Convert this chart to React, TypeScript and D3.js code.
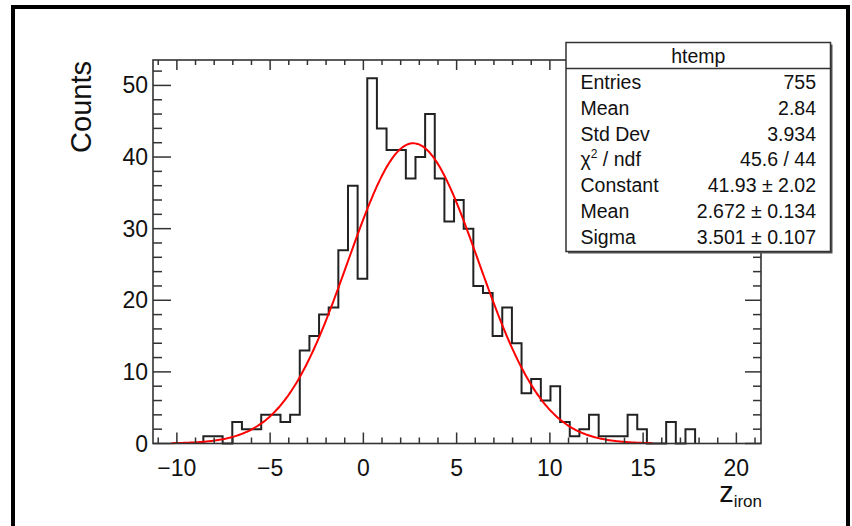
import React from "react"
import * as d3 from "d3"

// histogram contents (51 bins, first edge at -8.58)
const binStart = -8.58
const binWidth = 0.517
const counts = [
  1, 1, 0, 3, 2, 2, 4, 4, 3, 4,
  13, 15, 18, 19, 27, 36, 23, 51, 44, 41,
  41, 37, 40, 46, 37, 31, 34, 30, 22, 21,
  15, 19, 14, 7, 9, 6, 8, 3, 1, 2,
  4, 1, 1, 1, 4, 2, 0, 0, 3, 0, 2,
]

// gaussian fit parameters (from the stats box)
const fitConstant = 41.93
const fitMean = 2.672
const fitSigma = 3.501
const fitRange = [-10.3, 15.5]

const xTicks = [-10, -5, 0, 5, 10, 15, 20]
const yTicks = [0, 10, 20, 30, 40, 50]

const statsTitle = "htemp"
const statsLabels = ["Entries", "Mean", "Std Dev", "χ² / ndf", "Constant", "Mean", "Sigma"]
const statsValues = ["755", "2.84", "3.934", "45.6 / 44", "41.93 ± 2.02", "2.672 ± 0.134", "3.501 ± 0.107"]

const W = 852
const H = 526
const frame = { left: 153, right: 761, top: 60, bottom: 443.5 }
const font = "'Liberation Sans', Arial, Helvetica, sans-serif"

export default function App() {
  const x = d3.scaleLinear().domain([-11.28, 21.32]).range([frame.left, frame.right])
  const y = d3.scaleLinear().domain([0, 53.55]).range([frame.bottom, frame.top])

  // step outline of the histogram
  const pts: [number, number][] = []
  counts.forEach((c, i) => {
    const e0 = binStart + i * binWidth
    const e1 = e0 + binWidth
    if (i === 0) pts.push([e0, 0])
    pts.push([e0, c], [e1, c])
    if (i === counts.length - 1) pts.push([e1, 0])
  })
  const histLine = d3.line<[number, number]>().x(d => x(d[0])).y(d => y(d[1]))

  const gaus = (v: number) => fitConstant * Math.exp(-0.5 * ((v - fitMean) / fitSigma) ** 2)
  const fitPts = d3.range(0, 301).map(i => {
    const v = fitRange[0] + ((fitRange[1] - fitRange[0]) * i) / 300
    return [v, gaus(v)] as [number, number]
  })

  const xMinor = d3.range(-11, 22, 1)
  const yMinor = d3.range(0, 54, 2)
  const axisColor = "#333"

  const box = { x: 566, y: 42.5, w: 264.5, h: 209, head: 26 }
  const rowY = (i: number) => 82 + i * 25.8

  return (
    <svg width={W} height={H} style={{ position: "absolute", left: 0, top: 0, background: "#fff" }} fontFamily={font}>
      <rect x={13} y={7} width={835} height={540} fill="none" stroke="#000" strokeWidth={4} />

      {/* histogram */}
      <path d={histLine(pts) ?? ""} fill="none" stroke="#222" strokeWidth={2} />
      <path
        d={d3.line<[number, number]>().x(d => x(d[0])).y(d => y(d[1])).curve(d3.curveBasis)(fitPts) ?? ""}
        fill="none"
        stroke="#ff0000"
        strokeWidth={2}
      />

      {/* frame */}
      <rect
        x={frame.left}
        y={frame.top}
        width={frame.right - frame.left}
        height={frame.bottom - frame.top}
        fill="none"
        stroke={axisColor}
        strokeWidth={1.6}
      />

      {/* ticks */}
      <g stroke={axisColor} strokeWidth={1.5}>
        {xMinor.map(v => {
          const major = xTicks.includes(v)
          return (
            <g key={"xt" + v}>
              <line x1={x(v)} x2={x(v)} y1={frame.bottom} y2={frame.bottom - (major ? 11 : 6)} />
              <line x1={x(v)} x2={x(v)} y1={frame.top} y2={frame.top + (major ? 10 : 5)} />
            </g>
          )
        })}
        {yMinor.map(v => {
          const major = yTicks.includes(v)
          return (
            <g key={"yt" + v}>
              <line x1={frame.left} x2={frame.left + (major ? 18 : 9)} y1={y(v)} y2={y(v)} />
              <line x1={frame.right} x2={frame.right - (major ? 16 : 8)} y1={y(v)} y2={y(v)} />
            </g>
          )
        })}
      </g>

      {/* tick labels */}
      <g fontSize={23} fill="#111">
        {xTicks.map(v => (
          <text key={"xl" + v} x={x(v)} y={476} textAnchor="middle">
            {v < 0 ? "\u2212" + Math.abs(v) : v}
          </text>
        ))}
        {yTicks.map(v => (
          <text key={"yl" + v} x={148} y={y(v) + 8} textAnchor="end">
            {v}
          </text>
        ))}
      </g>

      {/* axis titles */}
      <text x={762} y={502} textAnchor="end" fill="#111" fontSize={29}>
        z<tspan fontSize={17} dy={5}>iron</tspan>
      </text>
      <text transform="translate(91,61) rotate(-90)" textAnchor="end" fill="#111" fontSize={29}>
        Counts
      </text>

      {/* stats box */}
      <rect x={box.x + 2} y={box.y + 2} width={box.w} height={box.h} fill="#555" />
      <rect x={box.x} y={box.y} width={box.w} height={box.h} fill="#fff" stroke="#333" strokeWidth={1.5} />
      <line x1={box.x} x2={box.x + box.w} y1={box.y + box.head} y2={box.y + box.head} stroke="#333" strokeWidth={1.5} />
      <g fontSize={19.5} fill="#111">
        <text x={box.x + box.w / 2} y={box.y + 20} textAnchor="middle">
          {statsTitle}
        </text>
        {statsLabels.map((l, i) => (
          <text key={"sl" + i} x={580.5} y={rowY(i) + 7}>
            {l.startsWith("χ²") ? (
              <>
                χ<tspan fontSize={12} dy={-8}>2</tspan>
                <tspan dy={8}>{l.slice(2)}</tspan>
              </>
            ) : (
              l
            )}
          </text>
        ))}
        {statsValues.map((v, i) => (
          <text key={"sv" + i} x={816} y={rowY(i) + 7} textAnchor="end">
            {v}
          </text>
        ))}
      </g>
    </svg>
  )
}
